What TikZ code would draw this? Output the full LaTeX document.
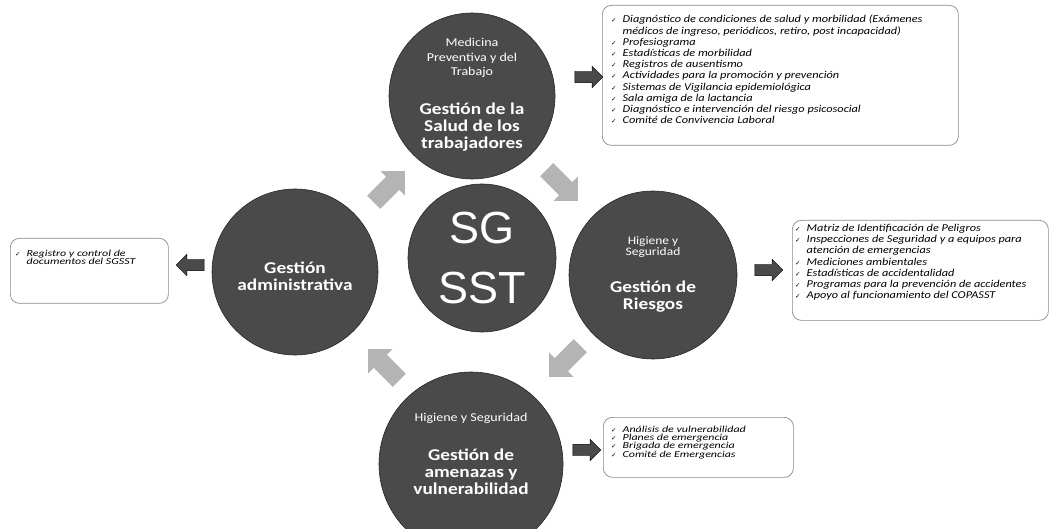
\documentclass[tikz,border=0pt]{standalone}
\usepackage{fontspec}
\setmainfont{Carlito}
\newfontfamily\arialf{Liberation Sans}
\newfontfamily\djv{DejaVu Sans}
\newfontfamily\widef[FakeStretch=1.17]{Carlito}
\newfontfamily\widerf[FakeStretch=1.3]{Carlito}
\usetikzlibrary{shapes.arrows}
\definecolor{circgray}{HTML}{4A4A4A}
\definecolor{cyclegray}{HTML}{B4B4B4}
\definecolor{boxline}{HTML}{8A8A8A}
\newcommand{\ckm}{{\upshape\djv\fontsize{6.5}{6.5}\selectfont ✓}}
\newcommand{\ckgap}{\hspace{6pt}}
\newcommand{\ckind}{\hphantom{\ckm\ckgap}}
\begin{document}
\begin{tikzpicture}[x=1pt,y=-1pt,
  circ/.style={circle, fill=circgray, draw=black!85, line width=0.6pt, inner sep=0},
  ctext/.style={text=white, align=center, inner sep=0, font=\widef\fontsize{16.5}{17}\selectfont\bfseries},
  csmall/.style={text=white, align=center, inner sep=0, font=\widef\fontsize{12}{14.5}\selectfont},
  listbox/.style={draw=boxline, line width=0.7pt, rounded corners=9pt},
  listtext/.style={anchor=north west, align=left, inner sep=0, font=\widef\fontsize{10.5}{11.2}\selectfont\itshape},
  smalllist/.style={anchor=north west, align=left, inner sep=0, font=\widerf\fontsize{9.2}{8.2}\selectfont\itshape},
  blackarrow/.style={single arrow, fill=circgray, draw=black, line width=0.4pt, minimum width=21, minimum height=28, inner xsep=0, inner ysep=5.5, single arrow head extend=5},
  cyclearrow/.style={single arrow, fill=cyclegray, minimum width=34, minimum height=44, inner xsep=0, inner ysep=9, single arrow head extend=8}
]
\useasboundingbox (0,0) rectangle (1052,529);
\fill[white] (0,0) rectangle (1052,529);

% circles
\node[circ, minimum size=166] (ctop) at (472,96) {};
\node[circ, minimum size=166] (cleft) at (295,272) {};
\node[circ, minimum size=168] (cright) at (653,275) {};
\node[circ, minimum size=184] (cbot) at (471,464) {};
\node[circ, minimum size=148] (ccen) at (482,258) {};

% circle texts
\node[csmall] (ttopsmall) at (472,58) {Medicina\\Preventiva y del\\Trabajo};
\node[ctext] (ttopbig) at (472,127) {Gestión de la\\Salud de los\\trabajadores};
\node[ctext] (tleft) at (295,276) {Gestión\\administrativa};
\node[csmall, font=\widef\fontsize{11.5}{11.5}\selectfont] (trightsmall) at (653,247) {Higiene y\\Seguridad};
\node[ctext] (trightbig) at (653,297) {Gestión de\\Riesgos};
\node[csmall] (tbotsmall) at (471,418) {Higiene y Seguridad};
\node[ctext] (tbotbig) at (471,472) {Gestión de\\amenazas y\\vulnerabilidad};
\node[text=white, align=center, inner sep=0, font=\arialf\fontsize{45}{60}\selectfont] (tcen) at (482,258) {SG\\SST};

% cycle arrows (clockwise)
\node[cyclearrow, rotate=45] (aul) at (386,190) {};
\node[cyclearrow, rotate=-45] (aur) at (559,182) {};
\node[cyclearrow, rotate=-135] (alr) at (568,358) {};
\node[cyclearrow, rotate=135] (all) at (387,368) {};

% list boxes
\node[listbox, minimum width=356, minimum height=140, anchor=north west] (btop) at (602,5) {};
\node[listbox, minimum width=256, minimum height=100, anchor=north west] (bright) at (792,220) {};
\node[listbox, minimum width=190, minimum height=60, anchor=north west] (bbot) at (603,417) {};
\node[listbox, minimum width=158, minimum height=65, anchor=north west] (bleft) at (10,238) {};

% black arrows to boxes
\node[blackarrow] (ktop) at (586,77) {};
\node[blackarrow] (kright) at (766,270) {};
\node[blackarrow] (kbot) at (584,450) {};
\node[blackarrow, rotate=180] (kleft) at (193,265) {};

% list texts
\node[listtext] (ltop) at (611,15) {%
\ckm\ckgap Diagnóstico de condiciones de salud y morbilidad (Exámenes\\
\ckind médicos de ingreso, periódicos, retiro, post incapacidad)\\
\ckm\ckgap Profesiograma\\
\ckm\ckgap Estadísticas de morbilidad\\
\ckm\ckgap Registros de ausentismo\\
\ckm\ckgap Actividades para la promoción y prevención\\
\ckm\ckgap Sistemas de Vigilancia epidemiológica\\
\ckm\ckgap Sala amiga de la lactancia\\
\ckm\ckgap Diagnóstico  e intervención del riesgo psicosocial\\
\ckm\ckgap Comité de Convivencia Laboral};

\node[listtext] (lright) at (795,224) {%
\ckm\ckgap Matriz de Identificación de Peligros\\
\ckm\ckgap Inspecciones de Seguridad y a equipos para\\
\ckind atención de emergencias\\
\ckm\ckgap Mediciones ambientales\\
\ckm\ckgap Estadísticas de accidentalidad\\
\ckm\ckgap Programas para la prevención de accidentes\\
\ckm\ckgap Apoyo al funcionamiento del COPASST};

\node[smalllist] (lbot) at (611,426) {%
\ckm\ckgap Análisis de vulnerabilidad\\
\ckm\ckgap Planes de emergencia\\
\ckm\ckgap Brigada de emergencia\\
\ckm\ckgap Comité de Emergencias};

\node[smalllist] (lleft) at (15,250) {%
\ckm\ckgap Registro y control de\\
\ckind documentos del SGSST};
\end{tikzpicture}
\end{document}
